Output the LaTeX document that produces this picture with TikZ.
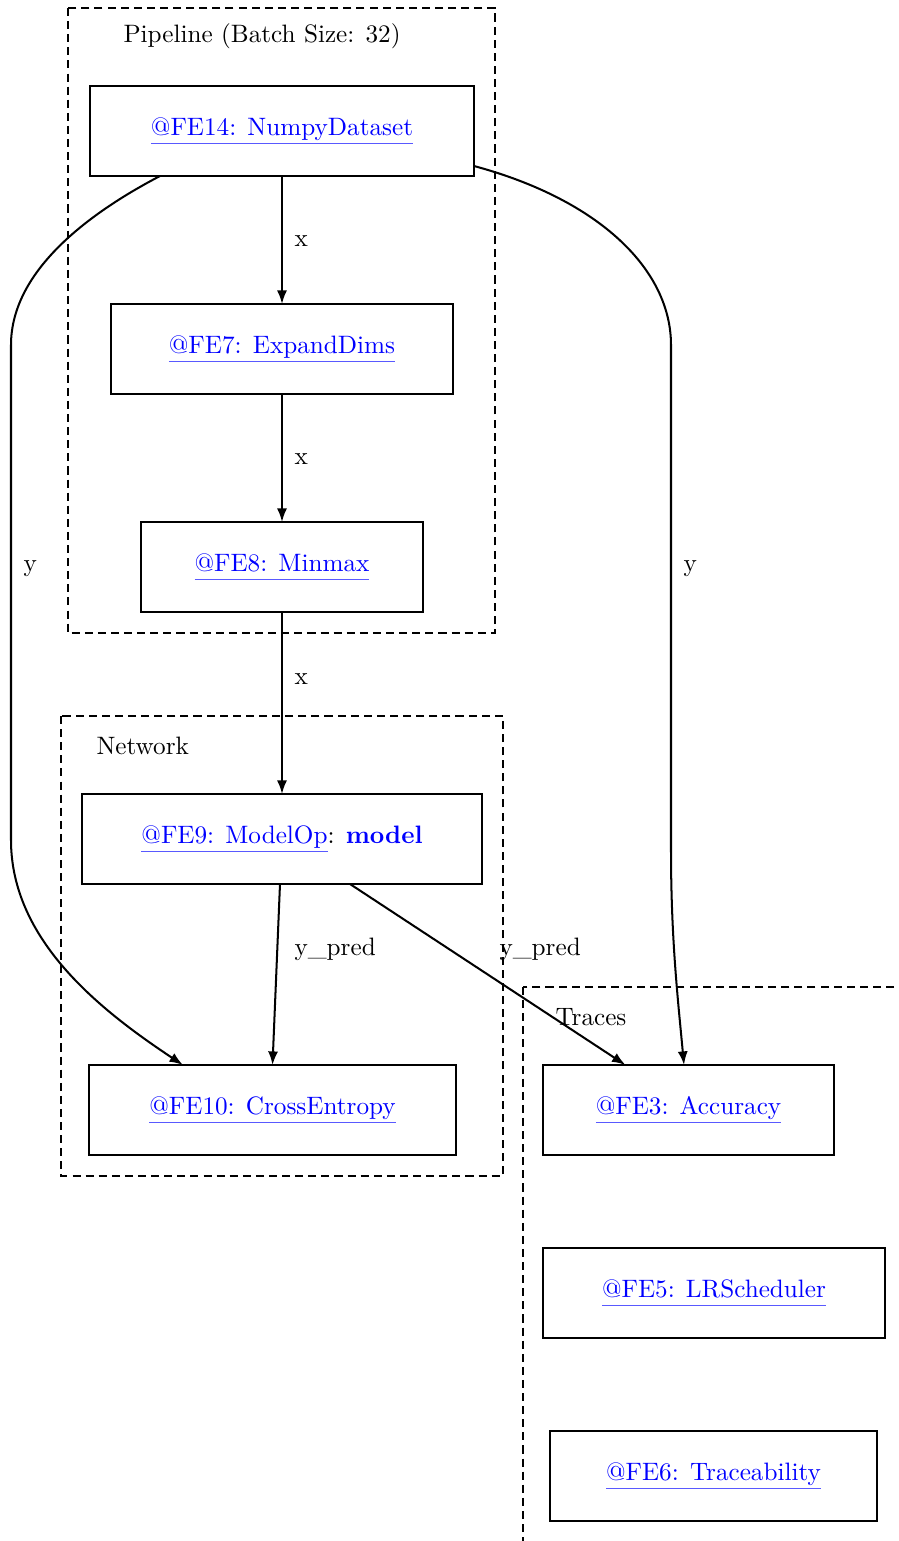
\documentclass[tikz,border=0pt]{standalone}
\usetikzlibrary{arrows.meta,calc}
% blue hyperlink-style text with a lighter underline
\newcommand{\felink}[1]{\leavevmode\setbox0\hbox{\textcolor{blue}{#1}}%
  \rlap{\color{blue!65}\rule[-3.4pt]{\wd0}{0.6pt}}\box0}
\begin{document}
\begin{tikzpicture}[x=0.397pt, y=-0.397pt,
  box/.style={draw, line width=0.9pt, inner sep=0pt, outer sep=0pt, minimum height=90*0.397pt},
  wd/.style={minimum width=#1*0.397pt},
  cluster/.style={draw, line width=0.8pt, dash pattern=on 3.2pt off 2pt},
  edge/.style={line width=0.8pt, -{Latex[length=5.4pt,width=4pt]}},
  lbl/.style={anchor=west, inner sep=0pt, text=black},
]
\useasboundingbox (0,0) rectangle (899,1541);
\clip (0,0) rectangle (899,1541);

% clusters
\draw[cluster] (68,8) rectangle (495,633);
\node[lbl] (plab) at (123,36) {Pipeline (Batch Size: 32)};
\draw[cluster] (61,716) rectangle (503,1176);
\node[lbl] (nlab) at (96,746) {Network};
\draw[cluster] (523,987) rectangle (960,1600);
\node[lbl] (tlab) at (555,1017) {Traces};

% operators
\node[box, wd=384] (fe14) at (282,131) {\felink{@FE14: NumpyDataset}};
\node[box, wd=342] (fe7) at (282,349) {\felink{@FE7: ExpandDims}};
\node[box, wd=282] (fe8) at (282,567) {\felink{@FE8: Minmax}};
\node[box, wd=400] (fe9) at (282,839) {\felink{@FE9: ModelOp}: \textcolor{blue}{\textbf{model}}};
\node[box, wd=367] (fe10) at (272.5,1110) {\felink{@FE10: CrossEntropy}};
\node[box, wd=291] (fe3) at (688.5,1110) {\felink{@FE3: Accuracy}};
\node[box, wd=342] (fe5) at (714,1293) {\felink{@FE5: LRScheduler}};
\node[box, wd=327] (fe6) at (713.5,1476) {\felink{@FE6: Traceability}};

% data flow
\draw[edge] (fe14.south) -- (fe7.north);
\draw[edge] (fe7.south) -- (fe8.north);
\draw[edge] (fe8.south) -- (fe9.north);
\draw[edge] ($(fe9.south)+(-2,0)$) -- (fe10.north);
\draw[edge] ($(fe9.south)+(68,0)$) -- ($(fe3.north)+(-63,0)$);
\draw[edge] ($(fe14.south)+(-122,0)$) .. controls (95,210) and (11,268) .. (11,345)
  -- (11,840) .. controls (11,940) and (100,1010) .. ($(fe10.north)+(-89.5,0)$);
\draw[edge] ($(fe14.east)+(0,35)$) .. controls (600,200) and (671,270) .. (671,345)
  -- (671,850) .. controls (671,940) and (678,1000) .. ($(fe3.north)+(-4.5,0)$);

% edge labels
\node[lbl] (lx1) at (294,241) {x};
\node[lbl] (lx2) at (294,459) {x};
\node[lbl] (lx3) at (294,679) {x};
\node[lbl] (ly1) at (23,569) {y};
\node[lbl] (ly2) at (683,569) {y};
\node[lbl] (lp1) at (294,949) {y\_pred};
\node[lbl] (lp2) at (499,949) {y\_pred};
\end{tikzpicture}
\end{document}
